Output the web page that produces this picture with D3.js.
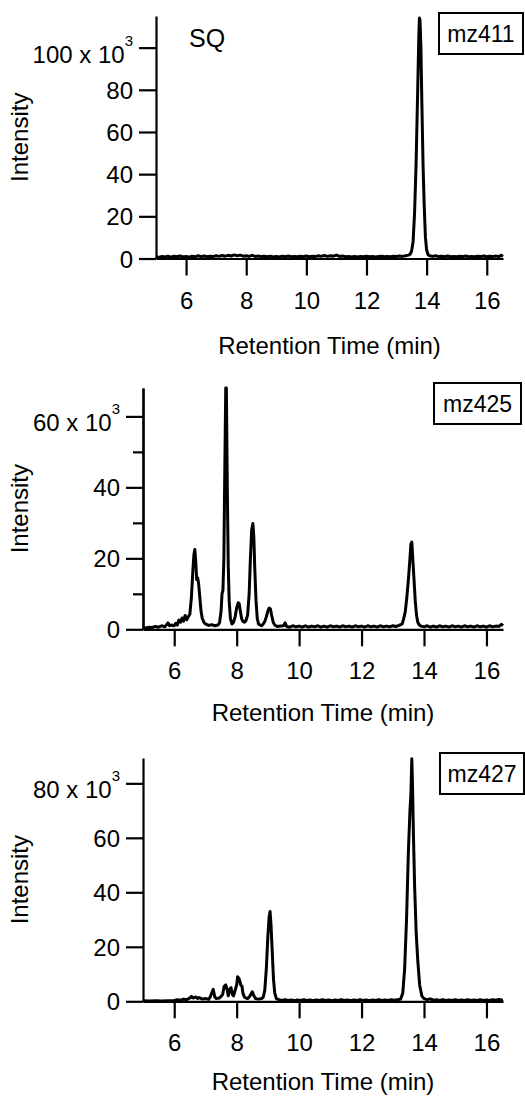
<!DOCTYPE html>
<html>
<head>
<meta charset="utf-8">
<script src="https://cdn.jsdelivr.net/npm/d3@7"></script>
<style>
  html, body { margin: 0; padding: 0; background: #fff; }
  svg { display: block; }
  text { font-family: "Liberation Sans", Arial, Helvetica, sans-serif; fill: #000; }
</style>
</head>
<body>
<svg id="chart" width="525" height="1097"></svg>
<script>
// Extracted ion chromatograms: [retention time (min), intensity (x10^3)]
const mz411 = [
  [5.0,0.9],[5.1,0.5],[5.2,1.0],[5.3,0.7],[5.4,1.1],[5.5,0.6],[5.6,1.1],[5.7,0.8],[5.8,1.2],[5.9,0.7],
  [6.0,1.0],[6.1,0.6],[6.2,1.1],[6.3,0.8],[6.4,1.3],[6.5,0.9],[6.6,1.2],[6.7,0.8],[6.8,1.1],[6.9,0.9],
  [7.0,1.3],[7.1,1.0],[7.2,1.4],[7.3,1.1],[7.4,1.5],[7.5,1.2],[7.6,1.7],[7.7,1.3],[7.8,1.6],[7.9,1.1],
  [8.0,1.3],[8.1,1.0],[8.2,1.5],[8.3,1.0],[8.4,1.2],[8.5,0.9],[8.6,1.1],[8.7,0.8],[8.8,1.1],[8.9,0.7],
  [9.0,1.0],[9.1,0.7],[9.2,1.1],[9.3,0.8],[9.4,1.2],[9.5,0.8],[9.6,1.0],[9.7,0.8],[9.8,1.1],[9.9,0.8],
  [10.0,1.2],[10.1,0.8],[10.2,1.1],[10.3,0.9],[10.4,1.3],[10.5,1.0],[10.6,1.4],[10.7,1.0],[10.8,1.3],[10.9,1.1],
  [11.0,1.6],[11.1,1.0],[11.2,1.2],[11.3,0.8],[11.4,1.0],[11.5,0.7],[11.6,1.0],[11.7,0.7],[11.8,1.0],[11.9,0.8],
  [12.0,1.1],[12.1,0.8],[12.2,1.0],[12.3,0.7],[12.4,0.9],[12.5,1.1],[12.6,0.8],[12.7,1.0],[12.8,0.8],[12.9,1.1],
  [13.0,1.0],[13.1,1.2],[13.2,1.0],[13.3,1.3],[13.4,1.6],[13.45,2.0],[13.5,3.5],[13.55,8],[13.6,22],[13.65,45],
  [13.7,78],[13.74,105],[13.76,114],[13.78,113],[13.81,100],[13.84,75],[13.88,45],[13.92,25],[13.96,10],[14.0,4],
  [14.05,1.8],[14.1,1.3],[14.2,1.0],[14.3,1.3],[14.4,0.9],[14.5,1.1],[14.6,0.8],[14.7,1.2],[14.8,0.8],[14.9,1.0],
  [15.0,0.8],[15.1,1.1],[15.2,0.9],[15.3,1.2],[15.4,0.8],[15.5,1.0],[15.6,0.8],[15.7,1.1],[15.8,0.9],[15.9,1.2],
  [16.0,0.8],[16.1,1.1],[16.2,0.9],[16.3,1.2],[16.4,0.9],[16.48,1.5],[16.54,1.0]
];
const mz425 = [
  [5.0,0.5],[5.1,0.4],[5.2,0.6],[5.3,0.5],[5.4,0.8],[5.5,0.6],[5.6,1.0],[5.7,0.7],[5.8,1.8],[5.85,1.0],
  [5.9,1.2],[6.0,1.0],[6.05,1.7],[6.1,1.2],[6.15,2.6],[6.2,2.0],[6.25,3.2],[6.3,2.3],[6.35,3.9],[6.4,2.7],
  [6.45,3.6],[6.5,4.2],[6.55,9],[6.6,17],[6.63,21],[6.66,22.5],[6.69,19],[6.72,14],[6.75,14.5],[6.78,13],
  [6.82,9],[6.86,5],[6.9,3],[6.95,2],[7.0,1.5],[7.1,1.1],[7.2,1.3],[7.3,1.0],[7.4,1.2],[7.45,1.8],
  [7.5,5],[7.53,10],[7.56,11],[7.59,20],[7.62,45],[7.65,68],[7.67,68],[7.7,40],[7.73,18],[7.76,8],
  [7.8,3],[7.85,1.5],[7.9,2.0],[7.95,3.5],[8.0,6],[8.05,7.5],[8.08,7.2],[8.12,5],[8.16,3],[8.2,2.2],
  [8.25,2.0],[8.3,2.5],[8.35,4],[8.4,10],[8.44,20],[8.48,28],[8.52,29.8],[8.55,26],[8.58,17],[8.62,8],
  [8.66,3],[8.7,1.5],[8.75,1.2],[8.8,1.0],[8.85,1.5],[8.9,2.2],[8.95,3.5],[9.0,5.2],[9.04,6],[9.08,5.8],
  [9.12,4],[9.17,2],[9.22,1.2],[9.3,0.8],[9.4,0.9],[9.5,1.0],[9.55,1.8],[9.6,0.8],[9.7,0.6],[9.8,1.0],
  [9.9,0.7],[10.0,0.9],[10.1,0.6],[10.2,1.0],[10.3,0.6],[10.4,0.9],[10.5,0.7],[10.6,1.0],[10.7,0.6],[10.8,0.9],
  [10.9,0.6],[11.0,1.0],[11.1,0.7],[11.2,0.9],[11.3,0.6],[11.4,1.0],[11.5,0.7],[11.6,0.9],[11.7,0.6],[11.8,1.0],
  [11.9,0.7],[12.0,0.9],[12.1,0.6],[12.2,1.0],[12.3,0.7],[12.4,0.9],[12.5,0.6],[12.6,1.0],[12.7,0.7],[12.8,0.9],
  [12.9,0.7],[13.0,1.0],[13.1,0.8],[13.2,1.1],[13.3,1.5],[13.35,3],[13.4,5],[13.45,9],[13.5,14],[13.55,20],
  [13.58,24],[13.61,24.6],[13.64,20],[13.68,14],[13.72,8],[13.76,4],[13.8,2],[13.85,1.2],[13.9,0.9],[14.0,0.7],
  [14.1,1.0],[14.2,0.6],[14.3,0.9],[14.4,0.6],[14.5,1.0],[14.6,0.7],[14.7,0.9],[14.8,0.6],[14.9,1.0],[15.0,0.7],
  [15.1,0.9],[15.2,0.6],[15.3,1.0],[15.4,0.7],[15.5,0.9],[15.6,0.6],[15.7,1.0],[15.8,0.7],[15.9,0.9],[16.0,0.6],
  [16.1,1.0],[16.2,0.7],[16.3,0.9],[16.4,0.8],[16.48,1.4],[16.53,1.0]
];
const mz427 = [
  [5.0,0.2],[5.2,0.1],[5.4,0.2],[5.6,0.1],[5.8,0.2],[6.0,0.3],[6.1,0.6],[6.2,0.4],[6.3,0.8],[6.4,0.6],
  [6.5,1.2],[6.55,1.8],[6.6,1.2],[6.7,1.6],[6.75,1.0],[6.8,1.4],[6.9,0.8],[7.0,1.0],[7.1,0.7],[7.15,1.5],
  [7.2,3],[7.25,4.4],[7.3,1.5],[7.35,1.0],[7.45,1.2],[7.5,1.8],[7.55,2.5],[7.6,5.5],[7.65,6],[7.7,4],
  [7.73,2],[7.78,4.5],[7.82,5],[7.86,2.5],[7.9,2],[7.95,4],[8.0,6],[8.03,9],[8.07,8.5],[8.1,7.5],
  [8.13,6],[8.17,5.5],[8.2,3],[8.25,1.5],[8.3,1.2],[8.35,1.0],[8.4,1.5],[8.45,2.5],[8.5,3.5],[8.55,2],
  [8.6,1.0],[8.7,0.8],[8.8,1.0],[8.85,1.5],[8.9,4],[8.95,12],[9.0,24],[9.04,31],[9.07,33],[9.1,28],
  [9.14,18],[9.18,8],[9.22,3],[9.27,1.0],[9.35,0.6],[9.45,0.3],[9.55,0.6],[9.65,0.3],[9.75,0.5],[9.85,0.2],
  [9.95,0.5],[10.05,0.3],[10.15,0.6],[10.25,0.3],[10.35,0.5],[10.45,0.2],[10.55,0.5],[10.65,0.3],[10.75,0.6],[10.85,0.3],
  [10.95,0.5],[11.05,0.2],[11.15,0.5],[11.25,0.3],[11.35,0.6],[11.45,0.3],[11.55,0.5],[11.65,0.2],[11.75,0.5],[11.85,0.3],
  [11.95,0.6],[12.05,0.3],[12.15,0.5],[12.25,0.2],[12.35,0.5],[12.45,0.3],[12.55,0.6],[12.65,0.3],[12.75,0.5],[12.85,0.3],
  [12.95,0.6],[13.05,0.4],[13.15,0.6],[13.25,0.8],[13.32,3],[13.38,12],[13.44,30],[13.5,55],[13.55,70],[13.58,76],
  [13.61,89],[13.63,80],[13.66,62],[13.7,42],[13.75,25],[13.8,15],[13.86,6],[13.93,2],[14.0,1.0],[14.1,0.6],
  [14.2,0.9],[14.3,0.4],[14.4,0.6],[14.5,0.3],[14.6,0.6],[14.7,0.3],[14.8,0.5],[14.9,0.3],[15.0,0.6],[15.1,0.3],
  [15.2,0.5],[15.3,0.3],[15.4,0.6],[15.5,0.3],[15.6,0.5],[15.7,0.3],[15.8,0.6],[15.9,0.3],[16.0,0.5],[16.1,0.3],
  [16.2,0.6],[16.3,0.4],[16.4,0.7],[16.48,0.4],[16.53,0.6]
];

const xTicks = [6, 8, 10, 12, 14, 16];
const yTicks411 = [0, 20, 40, 60, 80, 100];
const yTicks425 = [0, 20, 40, 60];
const yMinor425 = [10, 30, 50];
const yTicks427 = [0, 20, 40, 60, 80];

const seriesNames = ["mz411", "mz425", "mz427"];
const xTitle = "Retention Time (min)";
const yTitle = "Intensity";
const sampleLabel = "SQ";

// panel layout (pixels)
const panels = [
  { data: mz411, name: seriesNames[0], xDomain: [5, 16.54], xRange: [156, 503],
    yDomain: [0, 115], yRange: [258.5, 16], yTicks: yTicks411, yMinor: [],
    box: [439, 13, 84, 41], titleY: 354 },
  { data: mz425, name: seriesNames[1], xDomain: [5, 16.53], xRange: [143, 503],
    yDomain: [0, 68], yRange: [629.3, 388], yTicks: yTicks425, yMinor: yMinor425,
    box: [434, 383, 87, 41], titleY: 721 },
  { data: mz427, name: seriesNames[2], xDomain: [5, 16.53], xRange: [143, 503],
    yDomain: [0, 89.3], yRange: [1001.3, 758], yTicks: yTicks427, yMinor: [],
    box: [440, 753, 84, 41], titleY: 1090 }
];

const FONT = 24;
const svg = d3.select("#chart");

panels.forEach((p, i) => {
  const x = d3.scaleLinear().domain(p.xDomain).range(p.xRange);
  const y = d3.scaleLinear().domain(p.yDomain).range(p.yRange);
  const g = svg.append("g");
  const x0 = p.xRange[0], y0 = p.yRange[0];

  // trace
  const line = d3.line().x(d => x(d[0])).y(d => y(d[1]));
  g.append("path").datum(p.data)
    .attr("d", line)
    .attr("fill", "none")
    .attr("stroke", "#000")
    .attr("stroke-width", 3)
    .attr("stroke-linejoin", "round");

  // x axis
  const xAxis = g.append("g").attr("transform", `translate(0,${y0})`)
    .call(d3.axisBottom(x).tickValues(xTicks).tickSize(17).tickSizeOuter(0).tickFormat(d3.format("d")));
  xAxis.selectAll("text").attr("dy", null).attr("y", 50).style("font-size", FONT + "px");

  // y axis
  const yAxis = g.append("g").attr("transform", `translate(${x0},0)`)
    .call(d3.axisLeft(y).tickValues(p.yTicks).tickSize(17).tickPadding(6).tickSizeOuter(0).tickFormat(d3.format("d")));
  yAxis.selectAll("text").attr("dy", "0.36em").style("font-size", FONT + "px");
  // the top label carries the x 10^3 multiplier; the block is centred on its tick
  const top = p.yTicks[p.yTicks.length - 1];
  yAxis.selectAll(".tick").filter(d => d === top).select("text")
    .attr("dy", "0.6em")
    .text(top + " x 10")
    .append("tspan").attr("dy", "-17px").style("font-size", "15px").text("3");

  if (p.yMinor.length) {
    g.append("g").attr("transform", `translate(${x0},0)`)
      .call(d3.axisLeft(y).tickValues(p.yMinor).tickSize(10).tickSizeOuter(0).tickFormat(""));
  }

  g.selectAll(".domain, .tick line").attr("stroke", "#000").attr("stroke-width", 2.2);

  // axis titles
  g.append("text")
    .attr("x", (p.xRange[0] + p.xRange[1]) / 2).attr("y", p.titleY)
    .attr("text-anchor", "middle").style("font-size", FONT + "px")
    .text(xTitle);
  g.append("text")
    .attr("transform", `translate(28,${(p.yRange[0] + p.yRange[1]) / 2}) rotate(-90)`)
    .attr("text-anchor", "middle").style("font-size", FONT + "px")
    .text(yTitle);

  // trace label box
  const [bx, by, bw, bh] = p.box;
  g.append("rect").attr("x", bx).attr("y", by).attr("width", bw).attr("height", bh)
    .attr("fill", "#fff").attr("stroke", "#000").attr("stroke-width", 2);
  g.append("text").attr("x", bx + bw / 2).attr("y", by + bh / 2 + 8.5)
    .attr("text-anchor", "middle").style("font-size", "23px")
    .text(p.name);

  if (i === 0) {
    g.append("text").attr("x", 189).attr("y", 47).style("font-size", "25px").text(sampleLabel);
  }
});
</script>
</body>
</html>
